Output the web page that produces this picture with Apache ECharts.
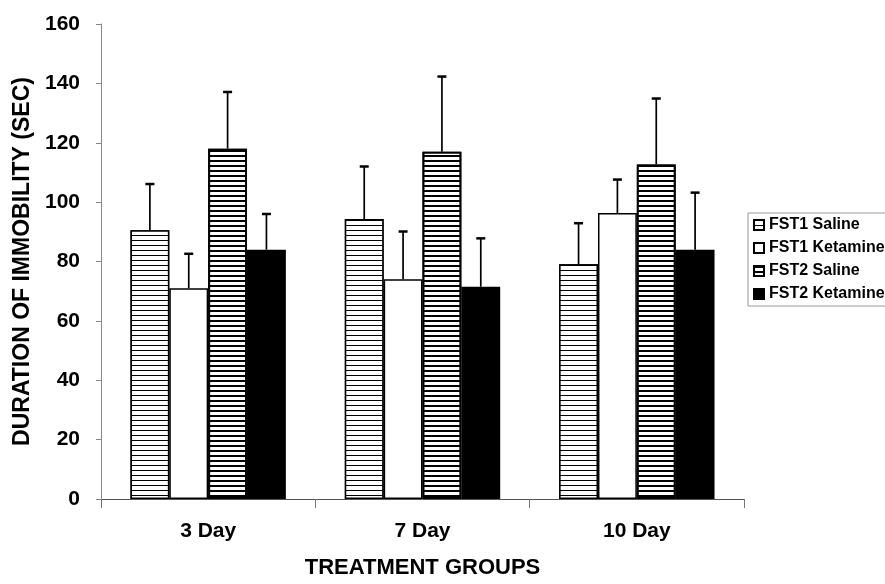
<!DOCTYPE html>
<html>
<head>
<meta charset="utf-8">
<script src="https://cdn.jsdelivr.net/npm/echarts@6/dist/echarts.min.js"></script>
<style>html,body{margin:0;padding:0;background:#fff}#c{width:885px;height:584px}</style>
</head>
<body>
<div id="c"></div>
<script>
const categories = ['3 Day', '7 Day', '10 Day'];
const seriesNames = ['FST1 Saline', 'FST1 Ketamine', 'FST2 Saline', 'FST2 Ketamine'];
const fst1Saline = [90.5, 94.3, 79.1];
const fst1SalineErr = [15.6, 17.7, 13.8];
const fst1Ketamine = [71, 74, 96.3];
const fst1KetamineErr = [11.6, 16.1, 11.3];
const fst2Saline = [118, 117, 112.7];
const fst2SalineErr = [19.1, 25.3, 22.2];
const fst2Ketamine = [84, 71.5, 84];
const fst2KetamineErr = [12, 16.3, 19.2];
const yTicks = [0, 20, 40, 60, 80, 100, 120, 140, 160];

const FONT = '"Liberation Sans", Arial, sans-serif';
const GAP = 0.275;
const means = [fst1Saline, fst1Ketamine, fst2Saline, fst2Ketamine];
const errs = [fst1SalineErr, fst1KetamineErr, fst2SalineErr, fst2KetamineErr];

const thinStripe = { symbol: 'rect', symbolSize: 1, color: '#000', backgroundColor: '#fff', dashArrayX: [1, 0], dashArrayY: [1, 4], rotation: 0 };
const thickStripe = { symbol: 'rect', symbolSize: 1, color: '#000', backgroundColor: '#fff', dashArrayX: [1, 0], dashArrayY: [2, 3], rotation: 0 };
const styles = [
  { color: '#fff', borderColor: '#000', borderWidth: 1.5, decal: thinStripe },
  { color: '#fff', borderColor: '#000', borderWidth: 1.5 },
  { color: '#fff', borderColor: '#000', borderWidth: 2, decal: thickStripe },
  { color: '#000', borderColor: '#000', borderWidth: 1.5 }
];

const series = [];
seriesNames.forEach((name, si) => {
  series.push({
    type: 'bar', name: name, data: means[si], barGap: '0%', barCategoryGap: (GAP * 100) + '%',
    itemStyle: styles[si], emphasis: { disabled: true }, animation: false
  });
});
seriesNames.forEach((name, si) => {
  series.push({
    type: 'custom', name: name + ' err', silent: true, z: 10, animation: false,
    data: means[si].map((m, i) => [i, m, errs[si][i]]),
    encode: { x: 0, y: 1 },
    renderItem: function (params, api) {
      const base = api.coord([api.value(0), api.value(1)]);
      const top = api.coord([api.value(0), api.value(1) + api.value(2)]);
      const band = api.size([1, 0])[0];
      const group = band * (1 - GAP);
      const bw = group / 4;
      const x = base[0] - group / 2 + bw * (si + 0.5);
      return { type: 'group', children: [
        { type: 'line', shape: { x1: x, y1: base[1], x2: x, y2: top[1] }, style: { stroke: '#000', lineWidth: 1.7 } },
        { type: 'line', shape: { x1: x - 4.5, y1: top[1], x2: x + 4.5, y2: top[1] }, style: { stroke: '#000', lineWidth: 2.5 } }
      ]};
    }
  });
});

const chart = echarts.init(document.getElementById('c'), null, { renderer: 'canvas' });
chart.setOption({
  backgroundColor: '#fff',
  animation: false,
  grid: { left: 101, right: 141, top: 24, bottom: 77 },
  legend: {
    data: seriesNames, orient: 'vertical', left: 748, top: 213,
    icon: 'rect', itemWidth: 10, itemHeight: 10, itemGap: 7,
    padding: [4, 20, 4, 5], borderColor: '#999', borderWidth: 1,
    textStyle: { fontFamily: FONT, fontWeight: 'bold', fontSize: 16, lineHeight: 16, color: '#000' },
    selectedMode: false
  },
  xAxis: {
    type: 'category', data: categories,
    axisLine: { lineStyle: { color: '#555', width: 1 } },
    axisTick: { show: true, length: 9, lineStyle: { color: '#777' } },
    axisLabel: { fontFamily: FONT, fontWeight: 'bold', fontSize: 21, color: '#000', margin: 22 },
    name: 'TREATMENT GROUPS', nameLocation: 'middle', nameGap: 58,
    nameTextStyle: { fontFamily: FONT, fontWeight: 'bold', fontSize: 22, color: '#000' }
  },
  yAxis: {
    type: 'value', min: 0, max: 160, interval: 20,
    axisLine: { show: true, lineStyle: { color: '#888', width: 1 } },
    axisTick: { show: true, length: 5, lineStyle: { color: '#888' } },
    splitLine: { show: false },
    axisLabel: { fontFamily: FONT, fontWeight: 'bold', fontSize: 21, color: '#000', margin: 21,
      formatter: v => yTicks.indexOf(v) >= 0 ? String(v) : '' },
    name: 'DURATION OF IMMOBILITY (SEC)', nameLocation: 'middle', nameGap: 66, nameRotate: 90,
    nameTextStyle: { fontFamily: FONT, fontWeight: 'bold', fontSize: 23, color: '#000' }
  },
  series: series
});
</script>
</body>
</html>
